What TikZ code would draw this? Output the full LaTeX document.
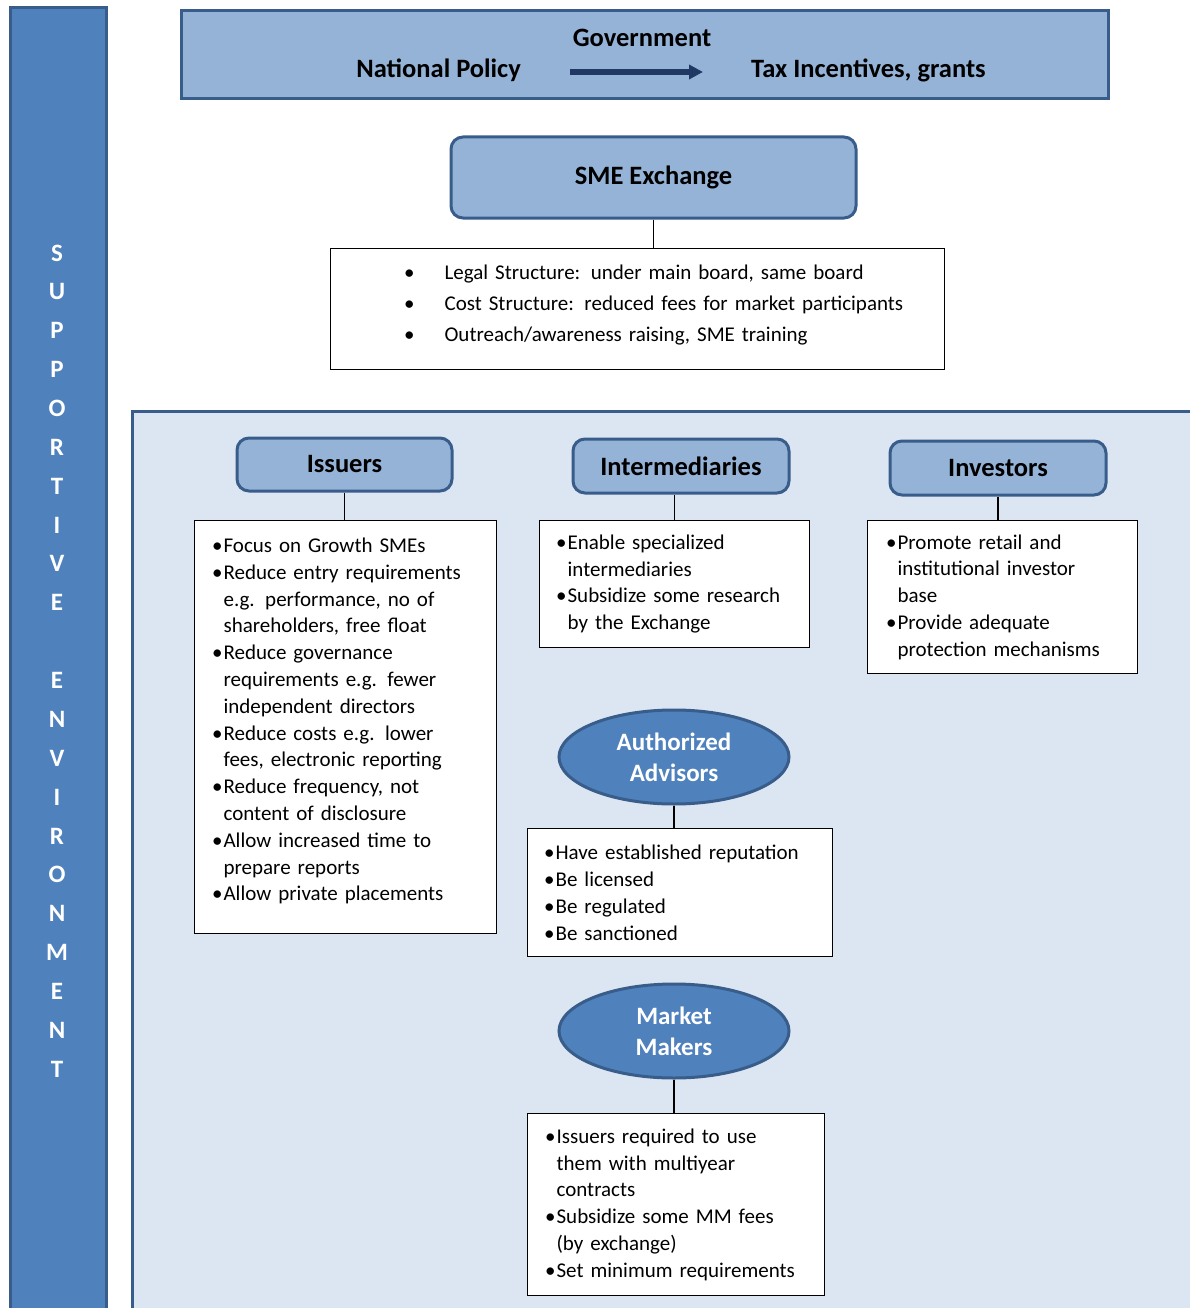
\documentclass[tikz,border=0pt]{standalone}
\usepackage{fontspec}
\setmainfont{Carlito}
\usetikzlibrary{shapes.geometric,arrows.meta}

\definecolor{lightblue}{HTML}{95B3D7}
\definecolor{midblue}{HTML}{4F81BD}
\definecolor{bordblue}{HTML}{385D8A}
\definecolor{panelblue}{HTML}{DCE6F2}
\definecolor{navy}{HTML}{1F3864}

\newcommand{\hdrfont}{\fontsize{26.5}{31}\selectfont\bfseries}
\newcommand{\ovalfont}{\fontsize{25}{31}\selectfont\bfseries}
\newcommand{\bodyfont}{\fontsize{21}{26.8}\selectfont}
\newcommand{\bul}{\leavevmode\llap{\textbullet\hspace{1pt}}}
\newcommand{\smebul}{\leavevmode\hspace*{114pt}\llap{\textbullet\hspace{30pt}}}

\tikzset{
  hdrbox/.style={draw=bordblue, line width=3pt, fill=lightblue,
    rounded corners=12pt, font=\hdrfont, minimum width=216pt,
    minimum height=54pt, inner sep=0pt},
  roleoval/.style={ellipse, draw=bordblue, line width=3pt, fill=midblue,
    text=white, font=\ovalfont, align=center, minimum width=230pt,
    minimum height=94pt, inner sep=0pt},
  bulletbox/.style={draw=black, line width=1.2pt, fill=white,
    font=\bodyfont, align=left, anchor=north west, inner xsep=29pt,
    inner ysep=0pt},
  link/.style={black, line width=1.2pt},
  sidechar/.style={text=white, font=\fontsize{25}{25}\selectfont\bfseries,
    inner sep=0pt},
  govtext/.style={font=\hdrfont, inner sep=0pt}
}

\begin{document}
\begin{tikzpicture}[x=1pt, y=-1pt, >={Triangle[length=14pt,width=14pt]}]
\useasboundingbox (0,0) rectangle (1190,1308);

% supportive environment bar
\draw[fill=midblue, draw=bordblue, line width=3pt]
    (10,8) rectangle (106,1330);
\foreach \ch [count=\i from 0] in
    {S,U,P,P,O,R,T,I,V,E,{},E,N,V,I,R,O,N,M,E,N,T}
  \node[sidechar] (side\i) at (57,{253+\i*38.86}) {\ch};

% government
\node[draw=bordblue, line width=3pt, fill=lightblue, minimum width=927pt,
    minimum height=88pt, anchor=north west] (govbox) at (180,9) {};
\node[govtext] (gov) at (642,38) {Government};
\node[govtext, anchor=east] (natpol) at (521,70) {National Policy};
\node[govtext, anchor=west] (tax) at (751,70) {Tax Incentives, grants};
\draw[->, navy, line width=5.5pt]
    ([xshift=49pt,yshift=-2pt]natpol.east) -- ([xshift=-48pt,yshift=-2pt]tax.west);

% exchange
\node[hdrbox, minimum width=405pt, minimum height=81pt] (smehdr)
    at (653.5,177.5) {SME Exchange};
\node[bulletbox, inner xsep=0pt, text width=614pt, minimum height=121pt,
    font=\fontsize{21}{31}\selectfont] (smebox) at (330,248) {%
  \smebul Legal Structure: under main board, same board\\
  \smebul Cost Structure: reduced fees for market participants\\
  \smebul Outreach/awareness raising, SME training\vspace{8pt}};
\draw[link] (smehdr.south) -- (smehdr.south |- smebox.north);

% market panel
\draw[fill=panelblue, draw=bordblue, line width=3pt]
    (132,411) rectangle (1220,1330);

\node[hdrbox, minimum width=215pt, minimum height=53pt] (isshdr)
    at (344.5,464.5) {Issuers};
\node[hdrbox] (inthdr) at (681,466) {Intermediaries};
\node[hdrbox] (invhdr) at (998,468) {Investors};

\node[bulletbox, text width=244pt, minimum height=413pt] (issbox)
    at (194,520) {%
  \bul Focus on Growth SMEs\\
  \bul \mbox{Reduce entry requirements}\\
  e.g. performance, no of\\
  shareholders, free float\\
  \bul Reduce governance\\
  requirements e.g. fewer\\
  independent directors\\
  \bul Reduce costs e.g. lower\\
  \mbox{fees, electronic reporting}\\
  \bul Reduce frequency, not\\
  content of disclosure\\
  \bul Allow increased time to\\
  prepare reports\\
  \bul Allow private placements\vspace{12pt}};
\node[bulletbox, inner xsep=28pt, text width=214pt, minimum height=127pt]
    (intbox) at (539,520) {%
  \bul Enable specialized\\
  intermediaries\\
  \bul \mbox{Subsidize some research}\\
  by the Exchange};
\node[bulletbox, inner xsep=30pt, text width=210pt, minimum height=153pt]
    (invbox) at (867,520) {%
  \bul Promote retail and\\
  institutional investor\\
  base\\
  \bul Provide adequate\\
  \mbox{protection mechanisms}};

\draw[link] (isshdr.south) -- (isshdr.south |- issbox.north);
\draw[link] (intbox.north) -- (intbox.north |- inthdr.south);
\draw[link] (invhdr.south) -- (invhdr.south |- invbox.north);

% advisors and market makers
\node[roleoval] (advis) at (674,757) {Authorized\\Advisors};
\node[bulletbox, inner xsep=28pt, text width=249pt, minimum height=128pt]
    (advbox) at (527,828) {%
  \bul \mbox{Have established reputation}\\
  \bul Be licensed\\
  \bul Be regulated\\
  \bul Be sanctioned};
\draw[link] (advis.south) -- (advis.south |- advbox.north);

\node[roleoval] (mmak) at (674,1031) {Market\\Makers};
\node[bulletbox, inner xsep=29pt, text width=239pt, minimum height=182pt]
    (mmbox) at (527,1113) {%
  \bul Issuers required to use\\
  them with multiyear\\
  contracts\\
  \bul Subsidize some MM fees\\
  (by exchange)\\
  \bul \mbox{Set minimum requirements}};
\draw[link] (mmak.south) -- (mmak.south |- mmbox.north);
\end{tikzpicture}
\end{document}
